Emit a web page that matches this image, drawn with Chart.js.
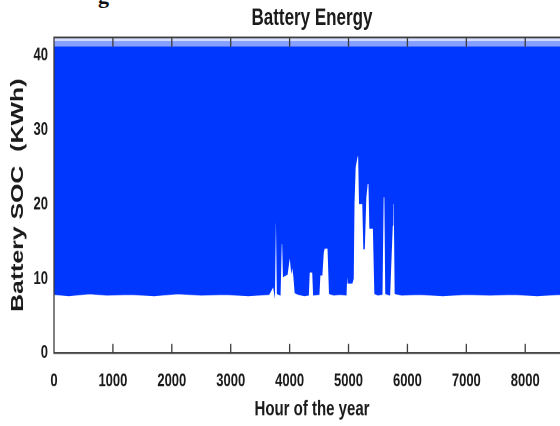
<!DOCTYPE html>
<html>
<head>
<meta charset="utf-8">
<script src="https://cdn.jsdelivr.net/npm/chart.js@4"></script>
<style>
  html, body { margin:0; padding:0; background:#fff; width:560px; height:426px; overflow:hidden; }
  #wrap { position:absolute; left:0; top:0; width:600px; height:300px; transform:scale(1,1.42); transform-origin:0 0; }
  #frag { position:absolute; left:98px; top:-17px; font:bold 22px 'Liberation Serif', serif; color:#111; }
</style>
</head>
<body>
<div id="frag">g</div>
<div id="wrap"><canvas id="c" width="600" height="300"></canvas></div>
<script>
// Tick labels
const xTicks = [0, 1000, 2000, 3000, 4000, 5000, 6000, 7000, 8000];
const yTicks = [0, 10, 20, 30, 40];

// Daily maximum of the battery energy (dense top of the band) and its lighter fringes
const topHours = [0, 8760];
const maxSoc   = [41.2, 41.2];
const highSoc  = [41.9, 41.9];
const peakSoc  = [42.3, 42.3];

// Lower envelope (daily minimum) of the battery energy
const hours = [0, 250, 600, 900, 1300, 1700, 2100, 2500, 2900, 3300, 3650, 3724, 3745, 3760, 3775, 3790,
  3840, 3860, 3880, 3893, 3960, 3995, 4010, 4030, 4046, 4070, 4092, 4150, 4250, 4320, 4335, 4390, 4405,
  4500, 4516, 4550, 4573, 4590, 4650, 4675, 4750, 4850, 4960, 4975, 4990, 5060, 5082, 5095, 5115, 5150,
  5170, 5185, 5240, 5258, 5270, 5295, 5320, 5345, 5360, 5420, 5445, 5500, 5570, 5590, 5615, 5630, 5700,
  5745, 5755, 5775, 5790, 5900, 6200, 6600, 7000, 7400, 7800, 8200, 8600, 8760];
const minSoc = [7.9, 7.7, 8.0, 7.8, 7.9, 7.7, 8.0, 7.8, 7.9, 7.7, 7.9, 9.0, 7.9, 17.5, 17.5, 8.0,
  7.8, 14.7, 14.7, 10.3, 10.6, 12.7, 12.7, 11.0, 11.8, 10.3, 8.1, 7.9, 7.7, 7.8, 10.9, 10.9, 7.8,
  7.9, 10.5, 10.5, 13.5, 14.1, 14.1, 8.0, 7.8, 7.9, 7.8, 11.4, 9.4, 9.4, 10.0, 20.1, 25.0, 26.5,
  26.5, 20.1, 20.1, 14.0, 14.0, 20.8, 22.8, 22.8, 16.8, 16.8, 8.0, 7.8, 7.9, 21.0, 21.0, 8.0, 7.8,
  17.2, 20.1, 20.1, 8.0, 7.8, 7.9, 7.7, 7.9, 7.8, 7.9, 7.7, 7.9, 7.8];

const BLUE = '#0037ff';
const toPts = (xs, ys) => xs.map((x, i) => ({ x: x, y: ys[i] }));

const framePlugin = {
  id: 'frame',
  afterDatasetsDraw(chart) {
    const { ctx, chartArea: { left, right, top, bottom }, scales: { x } } = chart;
    ctx.save();
    ctx.strokeStyle = '#3c3c3c';
    ctx.lineWidth = 1.3;
    ctx.beginPath();
    ctx.moveTo(left, top); ctx.lineTo(right, top); ctx.lineTo(right, bottom); ctx.lineTo(left, bottom); ctx.closePath();
    xTicks.forEach(v => {
      const px = x.getPixelForValue(v);
      ctx.moveTo(px, bottom); ctx.lineTo(px, bottom - 6.5);
      ctx.moveTo(px, top); ctx.lineTo(px, top + 6.5);
    });
    ctx.stroke();
    ctx.restore();
  }
};

Chart.defaults.font.family = "'Liberation Sans', Arial, sans-serif";
Chart.defaults.color = '#1a1a1a';

new Chart(document.getElementById('c'), {
  type: 'line',
  data: {
    datasets: [
      { label: 'peak', data: toPts(topHours, peakSoc), fill: 'start', backgroundColor: '#d3dcff',
        borderWidth: 0, pointRadius: 0, order: 4 },
      { label: 'high', data: toPts(topHours, highSoc), fill: 'start', backgroundColor: '#86a0ff',
        borderWidth: 0, pointRadius: 0, order: 3 },
      { label: 'max', data: toPts(topHours, maxSoc), fill: 'start', backgroundColor: BLUE,
        borderWidth: 0, pointRadius: 0, order: 2 },
      { label: 'min', data: toPts(hours, minSoc), fill: 'start', backgroundColor: '#ffffff',
        borderColor: BLUE, borderWidth: 0.8, pointRadius: 0, tension: 0, order: 1 }
    ]
  },
  options: {
    responsive: false,
    animation: false,
    devicePixelRatio: 2,
    layout: { padding: { left: 0, right: 30, top: 0, bottom: 0 } },
    plugins: {
      legend: { display: false },
      tooltip: { enabled: false },
      title: { display: true, fullSize: false, text: 'Battery Energy', font: { size: 17, weight: 'bold' },
        padding: { top: 2.5, bottom: 3.5 }, color: '#1a1a1a' }
    },
    scales: {
      x: {
        type: 'linear', min: 0, max: 8760,
        grid: { display: false, drawTicks: false }, border: { display: false },
        afterBuildTicks: s => { s.ticks = xTicks.map(v => ({ value: v })); },
        afterFit: s => { s.height = 51.4; },
        ticks: { font: { size: 13, weight: 'bold' }, padding: 12, maxRotation: 0, autoSkip: false,
          callback: v => String(v) },
        title: { display: true, text: 'Hour of the year', font: { size: 15, weight: 'bold' },
          padding: { top: 0, bottom: 2.5 } }
      },
      y: {
        min: 0, max: 42.4,
        grid: { display: false, drawTicks: false }, border: { display: false },
        afterBuildTicks: s => { s.ticks = yTicks.map(v => ({ value: v })); },
        afterFit: s => { s.width = 54; },
        ticks: { font: { size: 13, weight: 'bold' }, padding: 6, callback: v => String(v) },
        title: { display: true, text: 'Battery SOC  (KWh)', font: { size: 17.5, weight: 'bold' },
          padding: { top: 7.5, bottom: 0 } }
      }
    }
  },
  plugins: [framePlugin]
});
</script>
</body>
</html>
